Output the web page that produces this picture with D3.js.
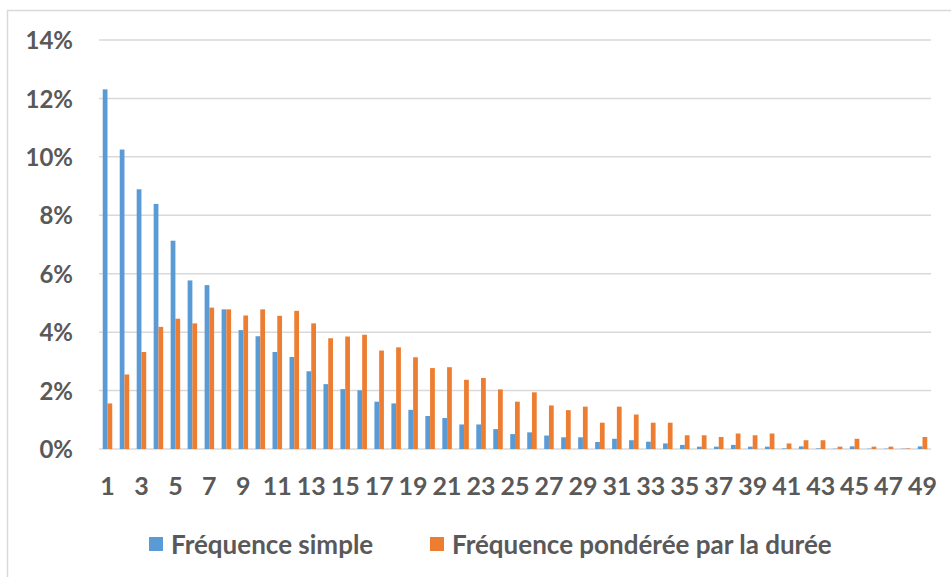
<!DOCTYPE html>
<html>
<head>
<meta charset="utf-8">
<script src="https://cdn.jsdelivr.net/npm/d3@7"></script>
<style>
  html, body { margin: 0; padding: 0; background: #fff; }
  svg { display: block; }
  text { font-family: Lato, sans-serif; font-weight: bold; fill: #595959; }
</style>
</head>
<body>
<svg id="chart" width="951" height="577"></svg>
<script>
// durées 1..49
const categories = d3.range(1, 50).map(String)
const tickLabels = categories.filter((d, i) => i % 2 === 0)
const yTicks = [0, 0.02, 0.04, 0.06, 0.08, 0.1, 0.12, 0.14]

// valeurs en %
const frequenceSimple = [12.31, 10.25, 8.89, 8.39, 7.13, 5.77, 5.61, 4.78, 4.07, 3.86,
  3.32, 3.15, 2.66, 2.22, 2.05, 2.01, 1.62, 1.56, 1.34, 1.13,
  1.06, 0.84, 0.84, 0.68, 0.51, 0.57, 0.46, 0.40, 0.40, 0.24,
  0.35, 0.30, 0.25, 0.19, 0.14, 0.08, 0.08, 0.14, 0.08, 0.08,
  0.02, 0.09, 0.02, 0.01, 0.09, 0.01, 0.01, 0.01, 0.09]
const frequencePonderee = [1.56, 2.55, 3.32, 4.18, 4.46, 4.30, 4.84, 4.78, 4.57, 4.78,
  4.56, 4.73, 4.30, 3.79, 3.85, 3.91, 3.37, 3.48, 3.14, 2.77,
  2.80, 2.37, 2.43, 2.04, 1.62, 1.94, 1.49, 1.33, 1.45, 0.90,
  1.45, 1.18, 0.90, 0.90, 0.47, 0.47, 0.41, 0.53, 0.47, 0.53,
  0.19, 0.30, 0.30, 0.08, 0.35, 0.08, 0.08, 0.02, 0.41]

const seriesNames = ['Fréquence simple', 'Fréquence pondérée par la durée']
const colors = ['#5b9bd5', '#ed7d31']

const svg = d3.select('#chart')

// cadre du graphique
svg.append('path')
  .attr('d', 'M7.5,577 V10.5 H951')
  .attr('fill', 'none')
  .attr('stroke', '#d9d9d9')
  .attr('stroke-width', 1.5)

const mLeft = 99, mRight = 931, mTop = 40, mBottom = 449

const y = d3.scaleLinear().domain([0, 0.14]).range([mBottom, mTop])
const x = d3.scaleBand().domain(categories).range([mLeft, mRight]).paddingInner(0.44).paddingOuter(0.22)
const x1 = d3.scaleBand().domain([0, 1]).range([0, x.bandwidth()])

// grille
svg.append('g')
  .selectAll('line')
  .data(yTicks)
  .join('line')
  .attr('x1', mLeft)
  .attr('x2', mRight)
  .attr('y1', (d) => y(d))
  .attr('y2', (d) => y(d))
  .attr('stroke', '#d9d9d9')
  .attr('stroke-width', 1.5)

// barres
const data = categories.map((c, i) => ({ c, v: [frequenceSimple[i] / 100, frequencePonderee[i] / 100] }))
svg.append('g')
  .selectAll('g')
  .data(data)
  .join('g')
  .attr('transform', (d) => `translate(${x(d.c)},0)`)
  .selectAll('rect')
  .data((d) => d.v)
  .join('rect')
  .attr('x', (d, i) => x1(i))
  .attr('width', x1.bandwidth())
  .attr('y', (d) => y(d))
  .attr('height', (d) => mBottom - y(d))
  .attr('fill', (d, i) => colors[i])

// axes
const yAxis = svg.append('g')
  .attr('transform', `translate(${mLeft},0)`)
  .call(d3.axisLeft(y).tickValues(yTicks).tickFormat(d3.format('.0%')).tickSize(0).tickPadding(26))
yAxis.select('.domain').remove()
yAxis.selectAll('text').style('font-size', '24px').attr('dy', '0.36em')

const xAxis = svg.append('g')
  .attr('transform', `translate(0,${mBottom})`)
  .call(d3.axisBottom(x).tickValues(tickLabels).tickSize(0).tickPadding(28))
xAxis.select('.domain').remove()
xAxis.selectAll('text').style('font-size', '25px').attr('dy', '0.71em')

// légende
const legendX = [149, 430]
const legend = svg.append('g')
  .selectAll('g')
  .data(seriesNames)
  .join('g')
  .attr('transform', (d, i) => `translate(${legendX[i]},537)`)
legend.append('rect').attr('width', 14).attr('height', 14).attr('fill', (d, i) => colors[i])
legend.append('text')
  .attr('x', 22)
  .attr('y', 8)
  .attr('dy', '0.35em')
  .style('font-size', '26px')
  .text((d) => d)
</script>
</body>
</html>
